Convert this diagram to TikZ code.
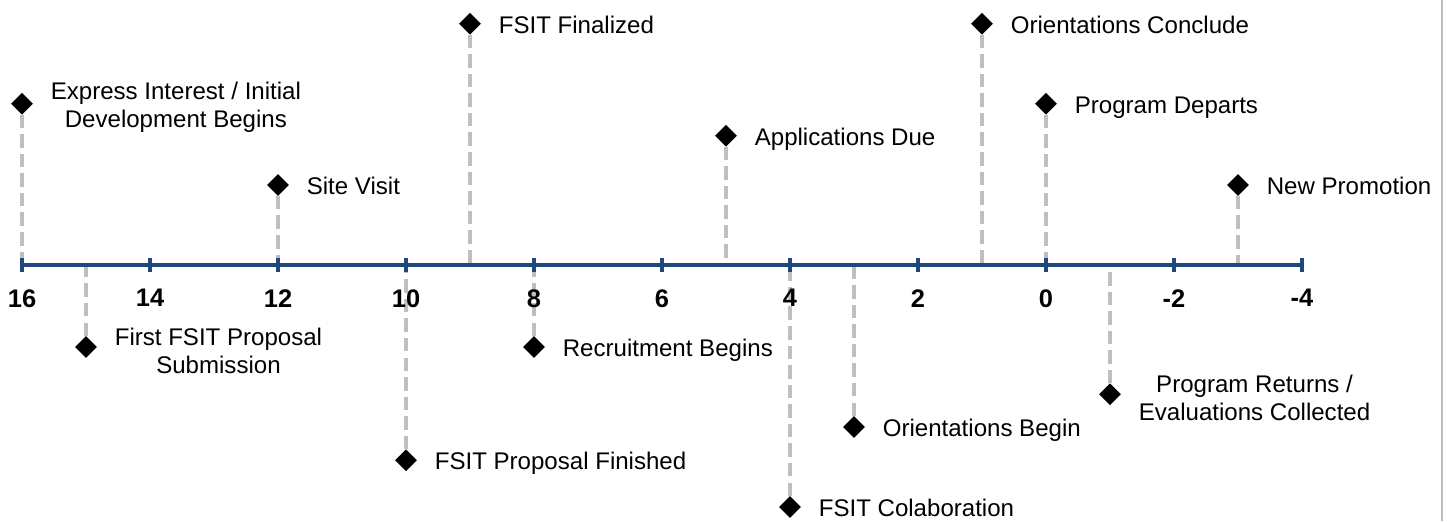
\documentclass[tikz,border=0pt]{standalone}
\usepackage{fontspec}
\setmainfont{Liberation Sans}
\usetikzlibrary{shapes.geometric}
\usetikzlibrary{positioning}
\definecolor{axisblue}{RGB}{31,73,125}
\definecolor{stemgray}{RGB}{191,191,191}

\begin{document}
\begin{tikzpicture}[outer sep=0,
        milestone/.style={diamond,fill,inner sep=0,minimum size=0.34cm},
        event/.style={inner sep=0,text height=0.95em,text depth=0.1em,font=\fontsize{10.7}{12.5}\selectfont},
        twoline/.style={inner sep=0,align=center,yshift=-0.06cm,font=\fontsize{10.7}{12.6}\selectfont},
        stem/.style={stemgray,line width=1.8pt,dash pattern=on 6pt off 2.7pt},
        num/.style={inner sep=0,font=\fontsize{11.3}{13}\selectfont\bfseries}]
        \useasboundingbox (0,0) rectangle (22.625,8.141);
        % Frame edge
        \draw[stemgray,line width=0.9pt] (22.53,0) -- (22.53,8.141);
        % Axis points
        \foreach \v in {16,15,...,-4} { \coordinate (t\v) at ({16.344-\v},4); }
        % Above the axis
        \node[milestone] (Interest) at (t16 |- 0,6.52) {};
        \node[twoline,right=0.28cm of Interest] (InterestTxt) {Express Interest / Initial\\Development Begins};
        \node[milestone] (SiteVisit) at (t12 |- 0,5.25) {};
        \node[event,right=0.28cm of SiteVisit] (SiteVisitTxt) {Site Visit};
        \node[milestone] (Finalized) at (t9 |- 0,7.77) {};
        \node[event,right=0.28cm of Finalized] (FinalizedTxt) {FSIT Finalized};
        \node[milestone] (Applications) at (t5 |- 0,6.02) {};
        \node[event,right=0.28cm of Applications] (ApplicationsTxt) {Applications Due};
        \node[milestone] (OrientEnd) at (t1 |- 0,7.77) {};
        \node[event,right=0.28cm of OrientEnd] (OrientEndTxt) {Orientations Conclude};
        \node[milestone] (Departs) at (t0 |- 0,6.52) {};
        \node[event,right=0.28cm of Departs] (DepartsTxt) {Program Departs};
        \node[milestone] (Promotion) at (t-3 |- 0,5.25) {};
        \node[event,right=0.28cm of Promotion] (PromotionTxt) {New Promotion};
        % Below the axis
        \node[milestone] (Submission) at (t15 |- 0,2.72) {};
        \node[twoline,right=0.28cm of Submission] (SubmissionTxt) {First FSIT Proposal\\Submission};
        \node[milestone] (ProposalDone) at (t10 |- 0,0.95) {};
        \node[event,right=0.28cm of ProposalDone] (ProposalDoneTxt) {FSIT Proposal Finished};
        \node[milestone] (Recruitment) at (t8 |- 0,2.72) {};
        \node[event,right=0.28cm of Recruitment] (RecruitmentTxt) {Recruitment Begins};
        \node[milestone] (Colaboration) at (t4 |- 0,0.22) {};
        \node[event,right=0.28cm of Colaboration] (ColaborationTxt) {FSIT Colaboration};
        \node[milestone] (OrientBegin) at (t3 |- 0,1.47) {};
        \node[event,right=0.28cm of OrientBegin] (OrientBeginTxt) {Orientations Begin};
        \node[milestone] (Returns) at (t-1 |- 0,1.98) {};
        \node[twoline,right=0.28cm of Returns] (ReturnsTxt) {Program Returns /\\Evaluations Collected};
        % Stems
        \foreach \e/\v in {Interest/16,SiteVisit/12,Finalized/9,Applications/5,OrientEnd/1,Departs/0,Promotion/-3,Submission/15,ProposalDone/10,Recruitment/8,Colaboration/4,OrientBegin/3,Returns/-1} { \draw[stem] (\e) -- (t\v); }
        % Axis
        \draw[axisblue,line width=1.8pt] (t16) -- (t-4);
        \foreach \v in {16,14,...,-4} {
            \draw[axisblue,line width=1.8pt] (t\v) ++(0,0.11) -- ++(0,-0.22);
            \node[num,below=0.38cm of t\v] (n\v) {\v};
        }
    \end{tikzpicture}
\end{document}
